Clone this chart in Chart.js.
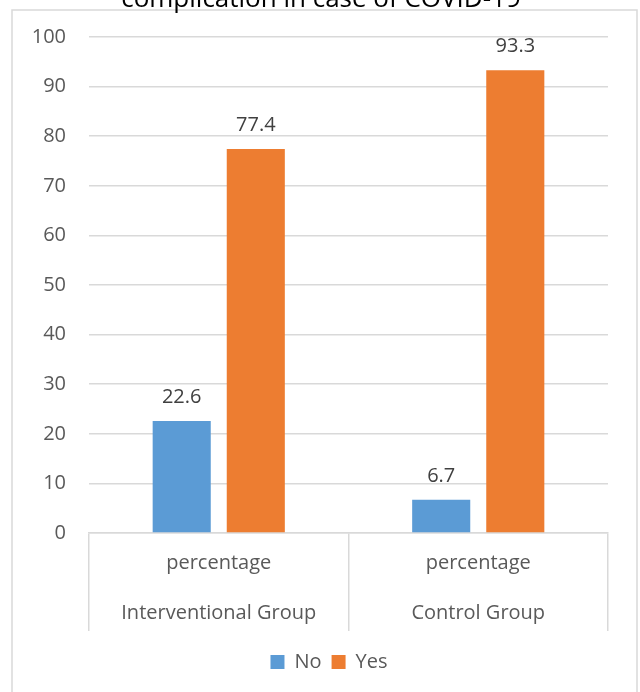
<!DOCTYPE html>
<html>
<head>
<meta charset="utf-8">
<script src="https://cdn.jsdelivr.net/npm/chart.js@4/dist/chart.umd.min.js"></script>
<style>
  html, body { margin: 0; padding: 0; background: #fff; }
  canvas { display: block; }
</style>
</head>
<body>
<canvas id="chart" width="640" height="692"></canvas>
<script>
const titleText = "complication in case of COVID-19";
const groups = ["Interventional Group", "Control Group"];
const measure = "percentage";
const noValues = [22.6, 6.7];
const yesValues = [77.4, 93.3];
const yMin = 0, yMax = 100, yStep = 10;

const FONT = "'Open Sans', 'Noto Sans', sans-serif";
const GRID = "#d9d9d9";
const TEXT = "#595959";

// outer frame + title, title sits partly above the canvas
const framePlugin = {
  id: "frame",
  afterLayout(chart) {
    // legend is centred on the plot, not on the whole canvas
    chart.legend.left += 20;
    chart.legend.right += 20;
  },
  beforeDraw(chart) {
    const ctx = chart.ctx;
    ctx.save();
    ctx.fillStyle = "#fff";
    ctx.fillRect(0, 0, chart.width, chart.height);
    ctx.strokeStyle = GRID;
    ctx.lineWidth = 1.5;
    ctx.strokeRect(12, 10, 625, chart.height + 10);
    ctx.restore();
  },
  afterDraw(chart) {
    const ctx = chart.ctx;
    ctx.save();
    ctx.fillStyle = "#000";
    ctx.font = "26px " + FONT;
    ctx.textAlign = "center";
    ctx.textBaseline = "alphabetic";
    ctx.fillText(titleText, 321, 7);
    ctx.restore();
  }
};

// value above every bar
const valueLabels = {
  id: "valueLabels",
  afterDatasetsDraw(chart) {
    const ctx = chart.ctx;
    ctx.save();
    ctx.fillStyle = "#404040";
    ctx.font = "20px " + FONT;
    ctx.textAlign = "center";
    ctx.textBaseline = "alphabetic";
    chart.data.datasets.forEach((ds, i) => {
      chart.getDatasetMeta(i).data.forEach((bar, j) => {
        ctx.fillText(ds.data[j].toFixed(1), bar.x, bar.y - 18);
      });
    });
    ctx.restore();
  }
};

new Chart(document.getElementById("chart"), {
  type: "bar",
  data: {
    labels: groups.map(g => [measure, g]),
    datasets: [
      { label: "No", data: noValues, backgroundColor: "#5b9bd5" },
      { label: "Yes", data: yesValues, backgroundColor: "#ed7d31" }
    ]
  },
  options: {
    responsive: false,
    animation: false,
    devicePixelRatio: 1,
    categoryPercentage: 0.571,
    barPercentage: 0.784,
    layout: { padding: { left: 10, right: 32, top: 37, bottom: 10 } },
    scales: {
      x: {
        grid: { display: true, drawOnChartArea: false, drawTicks: true, offset: true,
                tickLength: 98, color: GRID, lineWidth: 1.5 },
        border: { display: true, color: GRID, width: 1.5 },
        ticks: { color: TEXT, padding: -93, maxRotation: 0, autoSkip: false,
                 font: { family: FONT, size: 20, lineHeight: 2.5 } },
        afterFit(scale) { scale.height = 109; }
      },
      y: {
        min: yMin, max: yMax,
        grid: { color: GRID, lineWidth: 1.5, drawTicks: false },
        border: { display: false },
        ticks: { stepSize: yStep, color: TEXT, padding: 23,
                 font: { family: FONT, size: 20 } },
        afterFit(scale) { scale.width = 79; }
      }
    },
    plugins: {
      legend: {
        position: "bottom",
        labels: { boxWidth: 14, boxHeight: 14, padding: 10, color: TEXT,
                  font: { family: FONT, size: 20 } }
      },
      tooltip: { enabled: false }
    }
  },
  plugins: [framePlugin, valueLabels]
});
</script>
</body>
</html>
